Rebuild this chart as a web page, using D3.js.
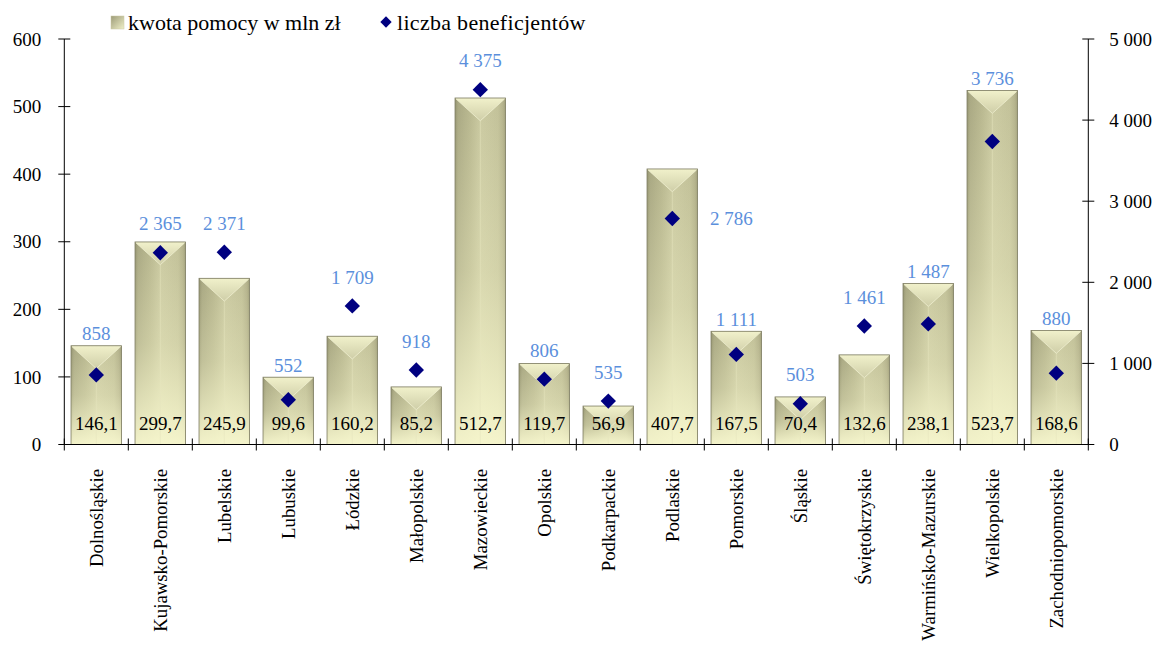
<!DOCTYPE html>
<html><head><meta charset="utf-8">
<script src="https://cdn.jsdelivr.net/npm/d3@7"></script>
<style>body{margin:0;background:#fff;} svg{display:block;}</style>
</head><body>
<svg id="c" width="1158" height="646"></svg>
<script>
const categories = ["Dolnośląskie","Kujawsko-Pomorskie","Lubelskie","Lubuskie","Łódzkie","Małopolskie","Mazowieckie","Opolskie","Podkarpackie","Podlaskie","Pomorskie","Śląskie","Świętokrzyskie","Warmińsko-Mazurskie","Wielkopolskie","Zachodniopomorskie"];
const kwota = [146.1,299.7,245.9,99.6,160.2,85.2,512.7,119.7,56.9,407.7,167.5,70.4,132.6,238.1,523.7,168.6];
const beneficjenci = [858,2365,2371,552,1709,918,4375,806,535,2786,1111,503,1461,1487,3736,880];
const leftTicks = [0,100,200,300,400,500,600];
const rightTicks = [0,1000,2000,3000,4000,5000];
const seriesNames = ["kwota pomocy w mln zł","liczba beneficjentów"];

const loc = d3.formatLocale({decimal:",", thousands:"\u00a0", grouping:[3], currency:["","zł"]});
const fmtInt = loc.format(",d");
const fmtDec = loc.format(".1f");

const svg = d3.select("#c");
const FONT = "'Liberation Serif', 'Times New Roman', serif";
const L = 64.3, R = 1088.3, T = 39, B = 444.5;

const x = d3.scaleBand().domain(categories).range([L, R]).padding(0);
const yL = d3.scaleLinear().domain([0,600]).range([B, T]);
const yR = d3.scaleLinear().domain([0,5000]).range([B, T]);

const defs = svg.append("defs");
const hg = defs.append("linearGradient").attr("id","hbar").attr("x1","0").attr("x2","1").attr("y1","0").attr("y2","0");
[[0,"#8f8e6b"],[0.06,"#a5a47f"],[0.3,"#b5b48c"],[0.49,"#c5c49c"],[0.5,"#c8c79f"],[0.85,"#bfbe96"],[0.95,"#b0ae88"],[1,"#999874"]]
  .forEach(([o,c])=>hg.append("stop").attr("offset",o).attr("stop-color",c));
const vg = defs.append("linearGradient").attr("id","vbar").attr("x1","0").attr("x2","0").attr("y1","0").attr("y2","1");
[[0,"#f7f7cc",0.05],[0.5,"#f7f7cc",0.35],[1,"#f9f9d0",0.92]]
  .forEach(([o,c,a])=>vg.append("stop").attr("offset",o).attr("stop-color",c).attr("stop-opacity",a));
const tg = defs.append("linearGradient").attr("id","tri").attr("x1","0").attr("x2","0").attr("y1","0").attr("y2","1");
[[0,"#f1f1cb"],[1,"#cfcea8"]].forEach(([o,c])=>tg.append("stop").attr("offset",o).attr("stop-color",c));
const sg = defs.append("linearGradient").attr("id","sq").attr("x1","0").attr("x2","1").attr("y1","0").attr("y2","1");
[[0,"#9c9b78"],[1,"#f0f0c8"]].forEach(([o,c])=>sg.append("stop").attr("offset",o).attr("stop-color",c));

// bars
const bw = x.bandwidth()*0.79, boff = x.bandwidth()*0.105;
const g = svg.append("g");
categories.forEach((c,i)=>{
  const x0 = x(c)+boff, y0 = yL(kwota[i]), h = B - y0;
  const bg = g.append("g");
  bg.append("rect").attr("x",x0).attr("y",y0).attr("width",bw).attr("height",h).attr("fill","url(#hbar)");
  bg.append("rect").attr("x",x0).attr("y",y0).attr("width",bw).attr("height",h).attr("fill","url(#vbar)");
  const d = Math.min(bw*0.45, h);
  const frac = d/(bw*0.45);
  if (h > d) bg.append("line").attr("x1",x0+bw/2).attr("x2",x0+bw/2).attr("y1",y0+d).attr("y2",B)
    .attr("stroke","#e6e5be").attr("stroke-width",1).attr("opacity",0.5);
  bg.append("path").attr("d",`M${x0},${y0} L${x0+bw},${y0} L${x0+bw/2+ (bw/2)*(1-frac)},${y0+d} L${x0+bw/2-(bw/2)*(1-frac)},${y0+d} Z`)
    .attr("fill","url(#tri)");
  bg.append("path").attr("d",`M${x0+1},${y0+1} L${x0+bw/2},${y0+d} L${x0+bw-1},${y0+1}`)
    .attr("fill","none").attr("stroke","#f4f4d6").attr("stroke-width",1).attr("opacity",0.7);
  bg.append("rect").attr("x",x0).attr("y",y0).attr("width",bw).attr("height",h).attr("fill","none").attr("stroke","#7d7c62").attr("stroke-width",0.8);
  // value label
  g.append("text").attr("x",x(c)+x.bandwidth()/2).attr("y",B-15).attr("text-anchor","middle")
    .attr("font-family",FONT).attr("font-size",19).attr("fill","#000").text(fmtDec(kwota[i]));
});

// axes
const axL = svg.append("g");
axL.append("line").attr("x1",L).attr("x2",L).attr("y1",T).attr("y2",B).attr("stroke","#000");
leftTicks.forEach(t=>{
  axL.append("line").attr("x1",L-6).attr("x2",L+6).attr("y1",yL(t)).attr("y2",yL(t)).attr("stroke","#000");
  axL.append("text").attr("x",L-23).attr("y",yL(t)).attr("dy","0.35em").attr("text-anchor","end")
    .attr("font-family",FONT).attr("font-size",19).text(fmtInt(t));
});
const axR = svg.append("g");
axR.append("line").attr("x1",R).attr("x2",R).attr("y1",T).attr("y2",B).attr("stroke","#000");
rightTicks.forEach(t=>{
  axR.append("line").attr("x1",R-6).attr("x2",R+6).attr("y1",yR(t)).attr("y2",yR(t)).attr("stroke","#000");
  axR.append("text").attr("x",R+21).attr("y",yR(t)).attr("dy","0.35em").attr("text-anchor","start")
    .attr("font-family",FONT).attr("font-size",19).text(fmtInt(t));
});
const axB = svg.append("g");
axB.append("line").attr("x1",L).attr("x2",R).attr("y1",B).attr("y2",B).attr("stroke","#000");
categories.concat([null]).forEach((c,i)=>{
  const xx = c===null ? R : x(c);
  axB.append("line").attr("x1",xx).attr("x2",xx).attr("y1",B-6).attr("y2",B+6).attr("stroke","#000");
});
categories.forEach(c=>{
  const cx = x(c)+x.bandwidth()/2;
  axB.append("text").attr("transform",`translate(${cx},469) rotate(-90)`).attr("dy","0.35em").attr("text-anchor","end")
    .attr("font-family",FONT).attr("font-size",18.8).text(c);
});

// diamonds
const diamond = d3.symbol().type(d3.symbolSquare).size(118);
categories.forEach((c,i)=>{
  const cx = x(c)+x.bandwidth()/2, cy = yR(beneficjenci[i]);
  svg.append("path").attr("d",diamond()).attr("transform",`translate(${cx},${cy}) rotate(45)`).attr("fill","#000080");
  let lx = cx, ly = Math.min(cy-29, yL(kwota[i])-12);
  if (c === "Podlaskie") { lx = cx + 59; ly = cy; }
  svg.append("text").attr("x",lx).attr("y",ly).attr("dy","0.35em").attr("text-anchor","middle")
    .attr("font-family",FONT).attr("font-size",19).attr("fill","#5b8fdc").text(fmtInt(beneficjenci[i]));
});

// legend
const lg = svg.append("g");
lg.append("rect").attr("x",111).attr("y",16).attr("width",13).attr("height",13).attr("fill","url(#sq)").attr("stroke","#c9c8a4").attr("stroke-width",0.5);
lg.append("text").attr("x",128).attr("y",22).attr("dy","0.35em").attr("font-family",FONT).attr("font-size",22).text(seriesNames[0]);
lg.append("path").attr("d",d3.symbol().type(d3.symbolSquare).size(64)()).attr("transform","translate(386,22) rotate(45)").attr("fill","#000080");
lg.append("text").attr("x",397).attr("y",22).attr("dy","0.35em").attr("font-family",FONT).attr("font-size",22).attr("letter-spacing",0.3).text(seriesNames[1]);
</script>
</body></html>
